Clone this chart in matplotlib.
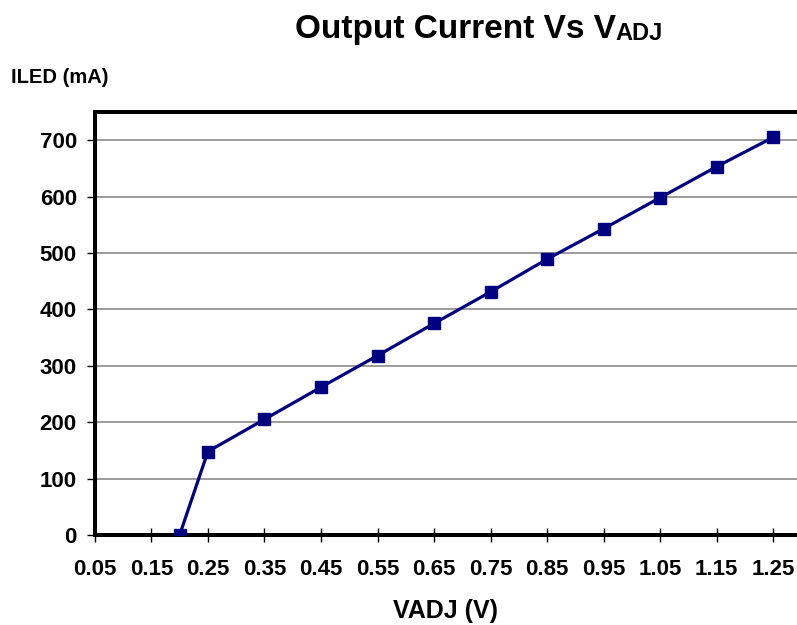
import matplotlib.pyplot as plt
import numpy as np

# Data
vadj = [0.20, 0.25, 0.35, 0.45, 0.55, 0.65, 0.75, 0.85, 0.95, 1.05, 1.15, 1.25]
iled = [0, 148, 205, 262, 318, 375, 431, 489, 543, 598, 653, 705]
x_ticks = [0.05, 0.15, 0.25, 0.35, 0.45, 0.55, 0.65, 0.75, 0.85, 0.95, 1.05, 1.15, 1.25]
y_ticks = [0, 100, 200, 300, 400, 500, 600, 700]

plt.rcParams['font.family'] = ['Liberation Sans', 'DejaVu Sans']
plt.rcParams['font.weight'] = 'bold'

fig = plt.figure(figsize=(7.97, 6.25), dpi=100)
ax = fig.add_axes([0.119, 0.144, 0.881, 0.677])

ax.plot(vadj, iled, color='#000080', lw=2.3, marker='s', markersize=8.5,
        markeredgecolor='#000080', zorder=3)

ax.set_xlim(0.05, 1.292)
ax.set_ylim(0, 750)
ax.set_xticks(x_ticks)
ax.set_xticklabels(['%.2f' % v for v in x_ticks])
ax.set_yticks(y_ticks)

ax.grid(axis='y', color='#808080', lw=1.1)
ax.set_axisbelow(True)

for s in ['left', 'bottom', 'top']:
    ax.spines[s].set_linewidth(2.9)
    ax.spines[s].set_color('black')
ax.spines['right'].set_visible(False)

ax.tick_params(axis='x', direction='inout', length=10, width=1, labelsize=16, pad=12)
ax.tick_params(axis='y', direction='out', length=6, width=1, labelsize=16, pad=7)
for lab in ax.get_xticklabels() + ax.get_yticklabels():
    lab.set_fontweight('bold')

ax.set_xlabel('VADJ (V)', fontsize=18, fontweight='bold', labelpad=14)
fig.text(0.014, 0.867, 'ILED (mA)', fontsize=14.5, fontweight='bold',
         ha='left', va='baseline')

# Title with small-caps style "ADJ"
t = fig.text(0.370, 0.939, 'Output Current Vs V', fontsize=24, fontweight='bold',
             ha='left', va='baseline')
ax.annotate('ADJ', xy=(1, 0), xycoords=t, xytext=(0, 0), textcoords='offset points',
            fontsize=17, fontweight='bold', ha='left', va='bottom')

fig.savefig('out.png', dpi=100)
